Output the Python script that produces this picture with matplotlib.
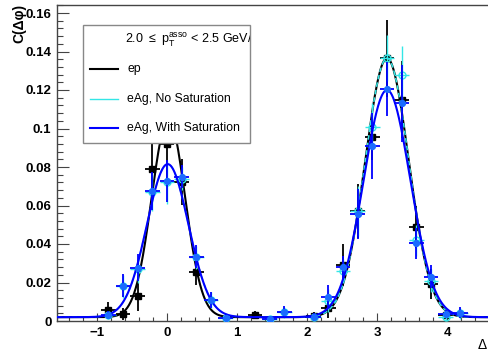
import numpy as np
import matplotlib
matplotlib.use("Agg")
import matplotlib.pyplot as plt
from matplotlib.patches import Rectangle
from matplotlib.lines import Line2D
from matplotlib.ticker import MultipleLocator

plt.rcParams['font.family'] = ['Liberation Sans', 'DejaVu Sans']
plt.rcParams['mathtext.fontset'] = 'custom'
plt.rcParams['mathtext.rm'] = 'Liberation Sans'

# 30 bins over [-pi/2, 3pi/2]
nbins = 30
edges = np.linspace(-np.pi / 2, 3 * np.pi / 2, nbins + 1)
centers = 0.5 * (edges[1:] + edges[:-1])
half_w = 0.5 * (edges[1] - edges[0])

# bin index -> value, missing bins are not drawn
ep_bins = [3, 4, 5, 6, 7, 8, 9, 13, 17, 18, 19, 20, 21, 22, 23, 24, 25, 26]
ep_vals = [0.0057, 0.0036, 0.0132, 0.079, 0.092, 0.0724, 0.0256, 0.003, 0.0026,
           0.0068, 0.029, 0.057, 0.0957, 0.1365, 0.115, 0.049, 0.0192, 0.003]
ep_errs = [0.004, 0.003, 0.008, 0.019, 0.02, 0.012, 0.007, 0.002, 0.002,
           0.005, 0.011, 0.014, 0.012, 0.02, 0.02, 0.011, 0.008, 0.002]

nosat_bins = [3, 4, 5, 6, 7, 8, 9, 10, 11, 14, 15, 17, 18, 19, 20, 21, 22, 23, 24, 25, 26, 27]
nosat_vals = [0.003, 0.018, 0.027, 0.067, 0.072, 0.074, 0.033, 0.011, 0.0014, 0.001, 0.0045,
              0.002, 0.0105, 0.026, 0.057, 0.101, 0.1365, 0.128, 0.042, 0.021, 0.002, 0.004]
nosat_errs = [0.002, 0.006, 0.007, 0.01, 0.011, 0.006, 0.006, 0.004, 0.001, 0.001, 0.003,
              0.002, 0.006, 0.006, 0.013, 0.012, 0.012, 0.015, 0.008, 0.006, 0.002, 0.003]

sat_bins = [3, 4, 5, 6, 7, 8, 9, 10, 11, 14, 15, 17, 18, 19, 20, 21, 22, 23, 24, 25, 26, 27]
sat_vals = [0.003, 0.0184, 0.0277, 0.0675, 0.0727, 0.075, 0.0334, 0.011, 0.0014, 0.001, 0.0048,
            0.002, 0.0127, 0.028, 0.0556, 0.091, 0.1204, 0.113, 0.0403, 0.023, 0.0036, 0.0043]
sat_errs = [0.002, 0.006, 0.007, 0.01, 0.011, 0.006, 0.006, 0.004, 0.001, 0.001, 0.003,
            0.002, 0.006, 0.006, 0.013, 0.017, 0.014, 0.02, 0.008, 0.006, 0.002, 0.003]

# fit parameters: const, near amp, near mean, near sigma, away amp, away sigma
ep_fit = [0.002, 0.103, 0.02, 0.238, 0.1345, 0.31]
nosat_fit = [0.002, 0.0795, 0.01, 0.296, 0.1345, 0.31]
sat_fit = [0.002, 0.0795, 0.01, 0.296, 0.118, 0.332]


def fitfunc(x, p):
    c, a1, m1, s1, a2, s2 = p
    return (c + a1 * np.exp(-(x - m1) ** 2 / (2 * s1 ** 2))
            + a2 * np.exp(-(x - np.pi) ** 2 / (2 * s2 ** 2)))


fig = plt.figure(figsize=(4.89, 3.55), dpi=100)
ax = fig.add_axes([57 / 489, 34 / 355, 440 / 489, 316 / 355])

xx = np.linspace(-np.pi / 2, 3 * np.pi / 2, 800)

black = 'black'
cyan = '#33e6e6'
blue = '#0000ff'
blue_mk = '#1a6bff'

ax.plot(xx, fitfunc(xx, ep_fit), color=black, lw=1.5, zorder=2)
ax.errorbar(centers[ep_bins], ep_vals, yerr=ep_errs, xerr=half_w, fmt='s',
            color=black, ms=4, elinewidth=1.3, capsize=0, zorder=3)

ax.plot(xx, fitfunc(xx, nosat_fit), color=cyan, lw=1.1, ls=(0, (3, 2)), zorder=4)
ax.errorbar(centers[nosat_bins], nosat_vals, yerr=nosat_errs, xerr=half_w, fmt='o',
            color=cyan, mfc='none', ms=5, elinewidth=1.0, capsize=0, zorder=4)

ax.plot(xx, fitfunc(xx, sat_fit), color=blue, lw=1.5, zorder=5)
ax.errorbar(centers[sat_bins], sat_vals, yerr=sat_errs, xerr=half_w, fmt='o',
            color=blue, mfc=blue_mk, mec=blue_mk, ms=4.2, elinewidth=1.3, capsize=0, zorder=6)

ax.set_xlim(-np.pi / 2, 3 * np.pi / 2)
ax.set_ylim(0, 316 / 1925)

ax.xaxis.set_major_locator(MultipleLocator(1))
ax.xaxis.set_minor_locator(MultipleLocator(0.2))
ax.yaxis.set_major_locator(MultipleLocator(0.02))
ax.yaxis.set_minor_locator(MultipleLocator(0.004))
ax.tick_params(axis='both', which='both', direction='in', top=False, right=False,
               labelsize=9.5, width=0.8, color='#444444')
ax.tick_params(axis='y', which='major', length=8.5, pad=4)
ax.tick_params(axis='y', which='minor', length=4.3)
ax.tick_params(axis='x', which='major', length=6, pad=4)
ax.tick_params(axis='x', which='minor', length=3)
ax.set_yticks([0, 0.02, 0.04, 0.06, 0.08, 0.1, 0.12, 0.14, 0.16])
ax.set_yticklabels(['0', '0.02', '0.04', '0.06', '0.08', '0.1', '0.12', '0.14', '0.16'],
                   fontweight='bold')
ax.set_xticks([-1, 0, 1, 2, 3, 4])
ax.set_xticklabels(['\u22121', '0', '1', '2', '3', '4'], fontweight='bold')
for sp in ax.spines.values():
    sp.set_color('#444444')
    sp.set_linewidth(1.0)

fig.text(12 / 489, 1 - 4 / 355, 'C(\u0394\u03c6)', rotation=90, ha='left', va='top',
         fontsize=10, fontweight='bold')
# axis title runs past the right edge; only the delta shows
fig.text(478 / 489, 1 - 352 / 355, '\u0394', ha='left', va='bottom', fontsize=10)

# legend box
lx0, lx1, ly0, ly1 = 83 / 489, 250 / 489, 1 - 143 / 355, 1 - 25 / 355
box = Rectangle((lx0, ly0), lx1 - lx0, ly1 - ly0, transform=fig.transFigure,
                facecolor='white', edgecolor='#888888', lw=1.0, zorder=10)
fig.patches.append(box)
hdr = fig.text(125 / 489, 1 - 40 / 355,
               r'2.0 $\leq$ p$_{\mathrm{T}}^{\mathrm{asso}}$ < 2.5 GeV/c',
               ha='left', va='center', fontsize=9, zorder=11)
hdr.set_clip_path(box)

labels = ['ep', 'eAg, No Saturation', 'eAg, With Saturation']
colors = [black, cyan, blue]
widths = [1.5, 1.0, 1.5]
ys = [69, 99, 128]
for lab, col, lw, yy in zip(labels, colors, widths, ys):
    yf = 1 - yy / 355
    fig.lines.append(Line2D([90 / 489, 118 / 489], [yf, yf], transform=fig.transFigure,
                            color=col, lw=lw, zorder=11))
    fig.text(127 / 489, yf, lab, ha='left', va='center', fontsize=8.8, zorder=11)

fig.savefig('out.png', dpi=100)
